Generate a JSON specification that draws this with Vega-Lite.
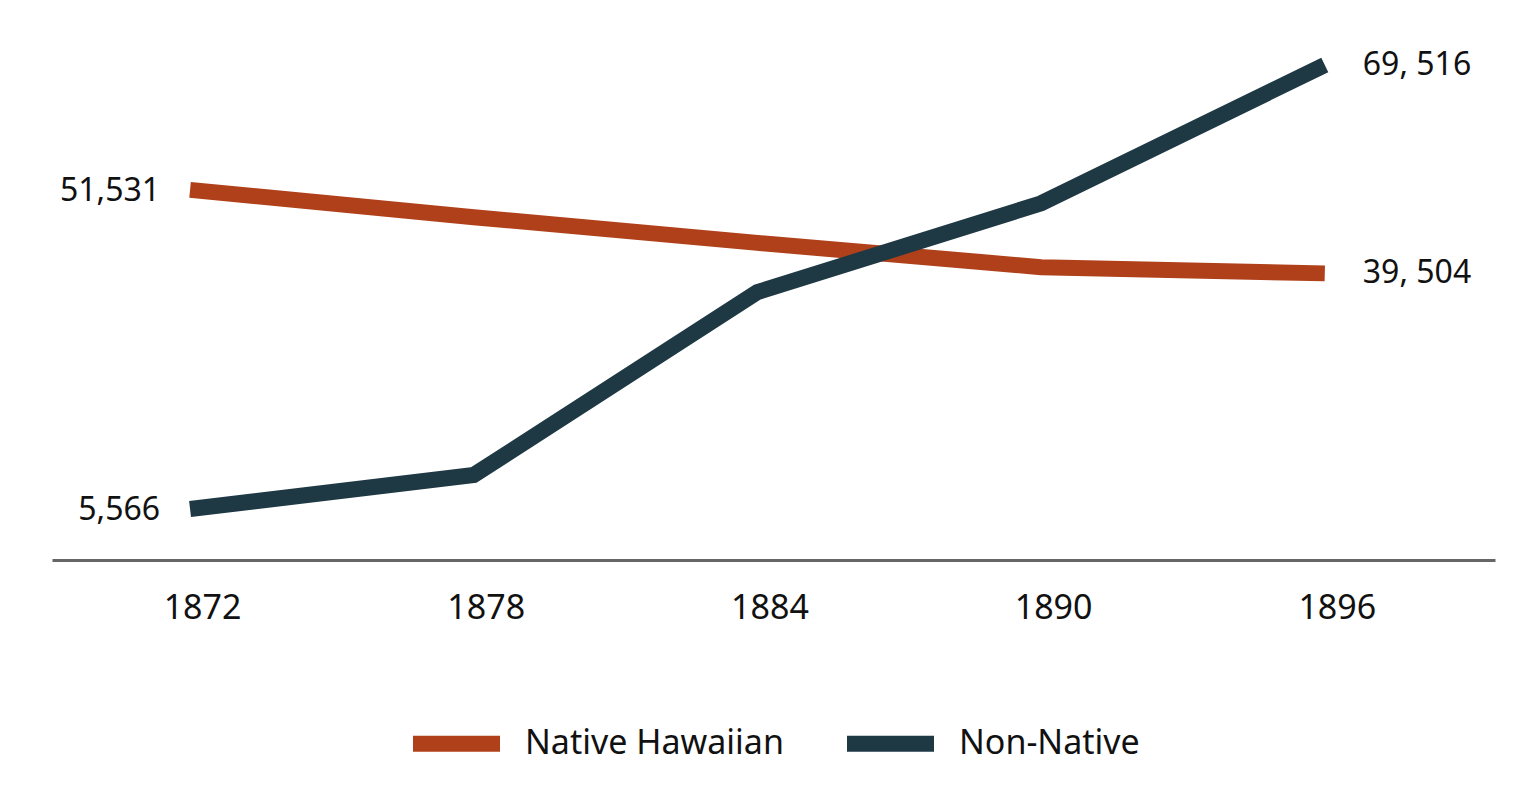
{
  "$schema": "https://vega.github.io/schema/vega-lite/v6.json",
  "width": 1443,
  "height": 520,
  "padding": {"left": 52, "top": 33, "right": 34, "bottom": 20},
  "background": "white",
  "config": {
    "view": {"stroke": null},
    "font": "Noto Sans"
  },
  "data": {
    "values": [
      {"year": 1872, "series": "Native Hawaiian", "value": 51531, "label": "51,531", "side": "left"},
      {"year": 1878, "series": "Native Hawaiian", "value": 47600, "label": "", "side": ""},
      {"year": 1884, "series": "Native Hawaiian", "value": 43900, "label": "", "side": ""},
      {"year": 1890, "series": "Native Hawaiian", "value": 40400, "label": "", "side": ""},
      {"year": 1896, "series": "Native Hawaiian", "value": 39504, "label": "39, 504", "side": "right"},
      {"year": 1872, "series": "Non-Native", "value": 5566, "label": "5,566", "side": "left"},
      {"year": 1878, "series": "Non-Native", "value": 10460, "label": "", "side": ""},
      {"year": 1884, "series": "Non-Native", "value": 36800, "label": "", "side": ""},
      {"year": 1890, "series": "Non-Native", "value": 49600, "label": "", "side": ""},
      {"year": 1896, "series": "Non-Native", "value": 69516, "label": "69, 516", "side": "right"}
    ]
  },
  "encoding": {
    "x": {
      "field": "year",
      "type": "quantitative",
      "scale": {"domain": [1869.08, 1899.6], "nice": false, "zero": false},
      "axis": {
        "values": [1872, 1878, 1884, 1890, 1896],
        "format": "d",
        "title": null,
        "grid": false,
        "ticks": false,
        "domainColor": "#666666",
        "domainWidth": 3,
        "labelFontSize": 34,
        "labelColor": "#111111",
        "labelPadding": 31,
        "labelOffset": 12,
        "labelFlush": false
      }
    },
    "y": {
      "field": "value",
      "type": "quantitative",
      "scale": {"domain": [-1779, 73117], "nice": false, "zero": false},
      "axis": null
    }
  },
  "layer": [
    {
      "mark": {"type": "line", "strokeWidth": 16, "strokeCap": "butt", "strokeJoin": "miter"},
      "encoding": {
        "color": {
          "field": "series",
          "type": "nominal",
          "scale": {"domain": ["Native Hawaiian", "Non-Native"], "range": ["#B0401A", "#1F3944"]},
          "legend": {
            "title": null,
            "orient": "none",
            "direction": "horizontal",
            "legendX": 353,
            "legendY": 652,
            "symbolType": "stroke",
            "symbolStrokeWidth": 16,
            "symbolSize": 7569,
            "labelFontSize": 34,
            "labelColor": "#111111",
            "labelOffset": 17,
            "labelLimit": 0,
            "columnPadding": 31,
            "padding": 0
          }
        },
        "order": {"field": "series", "sort": "ascending"}
      }
    },
    {
      "transform": [{"filter": "datum.side === 'left'"}],
      "mark": {"type": "text", "align": "right", "baseline": "middle", "dx": -30, "dy": 1, "fontSize": 32, "color": "#111111"},
      "encoding": {"text": {"field": "label"}}
    },
    {
      "transform": [{"filter": "datum.side === 'right'"}],
      "mark": {"type": "text", "align": "left", "baseline": "middle", "dx": 38, "dy": 0, "fontSize": 32, "color": "#111111"},
      "encoding": {"text": {"field": "label"}}
    }
  ]
}
